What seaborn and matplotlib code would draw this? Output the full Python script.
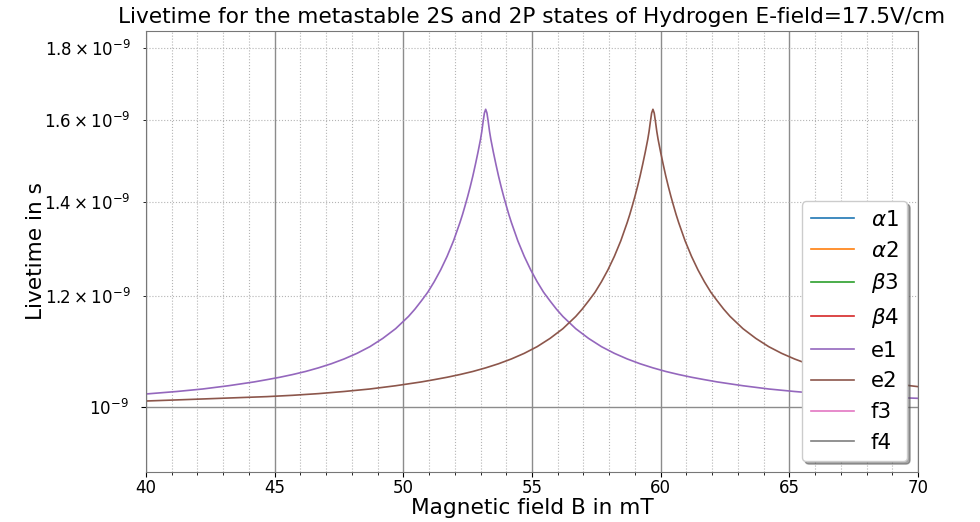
import matplotlib
matplotlib.use("Agg")
import matplotlib.pyplot as plt
from matplotlib.ticker import FixedLocator, MultipleLocator
import seaborn as sns
import pandas as pd

# Magnetic field (mT) and lifetimes (in units of 1e-9 s) of the mixed states
b_e1 = [40.0, 41.2, 42.2, 43.2, 44.2, 44.7, 45.2, 45.7, 46.2, 46.7, 47.2, 47.7,
        48.2, 48.7, 49.2, 49.7, 50.2, 50.45, 50.7, 50.95, 51.2, 51.45, 51.7,
        51.95, 52.2, 52.3, 52.4, 52.5, 52.6, 52.7, 52.8, 52.9, 53.0, 53.05,
        53.1, 53.15, 53.2, 53.25, 53.3, 53.35, 53.4, 53.5, 53.6, 53.7, 53.8,
        53.9, 54.0, 54.1, 54.2, 54.45, 54.7, 54.95, 55.2, 55.45, 55.7, 55.95,
        56.2, 56.7, 57.2, 57.7, 58.2, 58.7, 59.2, 59.7, 60.2, 60.7, 61.2, 61.7,
        62.2, 63.2, 64.2, 65.2, 66.2, 67.2, 68.2, 69.1, 70.0]
tau_e1 = [1.0216, 1.0258, 1.030, 1.0355, 1.042, 1.0459, 1.050, 1.0547, 1.060,
          1.0663, 1.0735, 1.082, 1.092, 1.104, 1.119, 1.137, 1.160, 1.174,
          1.190, 1.207, 1.228, 1.252, 1.280, 1.313, 1.353, 1.371, 1.391, 1.412,
          1.435, 1.460, 1.488, 1.518, 1.551, 1.571, 1.596, 1.619, 1.629, 1.619,
          1.596, 1.571, 1.551, 1.518, 1.488, 1.460, 1.435, 1.412, 1.391, 1.371,
          1.353, 1.313, 1.280, 1.252, 1.228, 1.207, 1.190, 1.174, 1.160, 1.137,
          1.119, 1.104, 1.092, 1.082, 1.0735, 1.0663, 1.060, 1.0547, 1.050,
          1.0459, 1.042, 1.0355, 1.030, 1.0258, 1.0222, 1.0194, 1.0172, 1.0157,
          1.0144]

b_e2 = [40.0, 41.7, 42.9, 44.7, 45.7, 46.7, 47.7, 48.7, 49.7, 50.7, 51.2, 51.7,
        52.2, 52.7, 53.2, 53.7, 54.2, 54.7, 55.2, 55.7, 56.2, 56.7, 56.95, 57.2,
        57.45, 57.7, 57.95, 58.2, 58.45, 58.7, 58.8, 58.9, 59.0, 59.1, 59.2,
        59.3, 59.4, 59.5, 59.55, 59.6, 59.65, 59.7, 59.75, 59.8, 59.85, 59.9,
        60.0, 60.1, 60.2, 60.3, 60.4, 60.5, 60.6, 60.7, 60.95, 61.2, 61.45,
        61.7, 61.95, 62.2, 62.45, 62.7, 63.2, 63.7, 64.2, 64.7, 65.2, 65.7,
        66.2, 66.7, 67.2, 67.7, 68.2, 68.7, 69.7, 70.0]
tau_e2 = [1.0099, 1.0125, 1.0144, 1.0172, 1.0194, 1.0222, 1.0258, 1.030,
          1.0355, 1.042, 1.0459, 1.050, 1.0547, 1.060, 1.0663, 1.0735, 1.082,
          1.092, 1.104, 1.119, 1.137, 1.160, 1.174, 1.190, 1.207, 1.228, 1.252,
          1.280, 1.313, 1.353, 1.371, 1.391, 1.412, 1.435, 1.460, 1.488, 1.518,
          1.551, 1.571, 1.596, 1.619, 1.629, 1.619, 1.596, 1.571, 1.551, 1.518,
          1.488, 1.460, 1.435, 1.412, 1.391, 1.371, 1.353, 1.313, 1.280, 1.252,
          1.228, 1.207, 1.190, 1.174, 1.160, 1.137, 1.119, 1.104, 1.092, 1.082,
          1.0735, 1.0663, 1.060, 1.0547, 1.050, 1.0459, 1.042, 1.0355, 1.034]

labels = [r"$\alpha 1$", r"$\alpha 2$", r"$\beta 3$", r"$\beta 4$", "e1", "e2", "f3", "f4"]
y_major_ticks = [1e-9]
y_minor_ticks = [1.2e-9, 1.4e-9, 1.6e-9, 1.8e-9]
colors = sns.color_palette("tab10", 8)

series = {
    "e1": (b_e1, tau_e1),
    "e2": (b_e2, tau_e2),
}

fig, ax = plt.subplots(figsize=(9.8, 5.22), dpi=100)
fig.subplots_adjust(left=0.149, right=0.9367, top=0.9406, bottom=0.0958)

for lab, col in zip(labels, colors):
    if lab in series:
        b, tau = series[lab]
        df = pd.DataFrame({"B": b, "tau": [t * 1e-9 for t in tau]})
        sns.lineplot(data=df, x="B", y="tau", ax=ax, color=col, lw=1.2,
                     label=lab, sort=False)
    else:
        # states whose lifetimes lie outside the plotted range
        ax.plot([], [], color=col, lw=1.2, label=lab)

ax.set_yscale("log")
ax.set_xlim(40, 70)
ax.set_ylim(0.899e-9, 1.852e-9)
ax.xaxis.set_minor_locator(MultipleLocator(1))
ax.yaxis.set_major_locator(FixedLocator(y_major_ticks))
ax.yaxis.set_minor_locator(FixedLocator(y_minor_ticks))

ax.grid(which="major", color="#8c8c8c", lw=1.0, ls="-")
ax.grid(which="minor", color="#b4b4b4", lw=0.8, ls=":")
for s in ax.spines.values():
    s.set_color("#777777")

ax.tick_params(axis="both", which="both", labelsize=12)
ax.tick_params(axis="x", which="both", pad=1.5)
ax.tick_params(axis="y", which="both", pad=9)
ax.set_title("Livetime for the metastable 2S and 2P states of Hydrogen E-field=17.5V/cm",
             fontsize=15.6)
ax.set_xlabel("Magnetic field B in mT", fontsize=15.6, labelpad=1)
ax.set_ylabel("Livetime in s", fontsize=15.6, labelpad=-1)

ax.legend(loc="lower right", fontsize=15.4, shadow=True, framealpha=1.0)

fig.savefig("out.png", dpi=100)
